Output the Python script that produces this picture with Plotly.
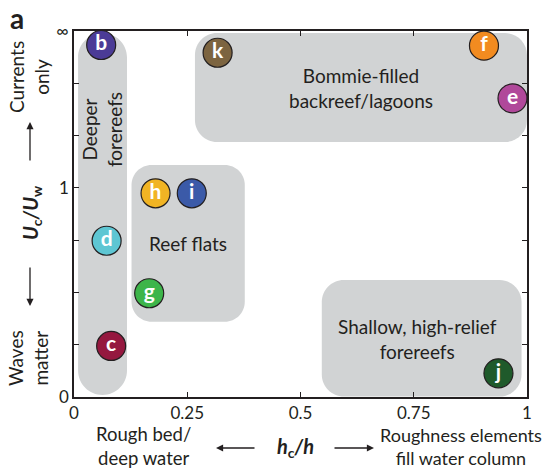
import plotly.graph_objects as go

# ---- data ----
site_labels = ["b", "c", "d", "e", "f", "g", "h", "i", "j", "k"]
site_x = [0.060, 0.082, 0.072, 0.968, 0.905, 0.166, 0.180, 0.260, 0.937, 0.317]
site_y = [1.683, 0.244, 0.747, 1.428, 1.680, 0.496, 0.974, 0.974, 0.113, 1.646]
site_colors = ["#4b3b96", "#95183f", "#5ec6d3", "#b0489a", "#f28b20",
               "#3db54a", "#f1b424", "#3b5aa8", "#1f5a2b", "#7c6440"]

region_names = ["Deeper<br>forereefs", "Reef flats", "Bommie-filled<br>backreef/lagoons",
                "Shallow, high-relief<br>forereefs"]
region_x0 = [0.009, 0.127, 0.267, 0.547]
region_x1 = [0.117, 0.377, 1.000, 0.988]
region_y0 = [0.010, 0.360, 1.219, 0.002]
region_y1 = [1.740, 1.109, 1.740, 0.559]
region_label_x = [0.062, 0.252, 0.634, 0.759]
region_label_y = [1.277, 0.736, 1.478, 0.277]

x_tickvals = [0, 0.25, 0.5, 0.75, 1]
x_ticktext = ["0", "0.25", "0.5", "0.75", "1"]
y_tickvals = [0, 0.25, 0.5, 0.75, 1, 1.25, 1.5, 1.75]
y_ticktext = ["0", "", "", "", "1", "", "", "∞"]

# ---- layout geometry ----
W, H = 546, 470
ML, MR, MT, MB = 74, 19, 31, 73
PW, PH = W - ML - MR, H - MT - MB
XR, YR = (0, 1), (0, 1.75)
sx = PW / (XR[1] - XR[0])
sy = PH / (YR[1] - YR[0])

FONT = "Lato"
TXT = "#231f20"
GRAY = "#d1d3d4"
LBL = 19
region_radius_px = [24.5, 20, 22, 22]


def rounded_path(x0, x1, y0, y1, rpx):
    rx = rpx / sx
    ry = rpx / sy
    k = 0.5523
    p = []
    p.append(f"M {x0+rx},{y0}")
    p.append(f"L {x1-rx},{y0}")
    p.append(f"C {x1-rx+k*rx},{y0} {x1},{y0+ry-k*ry} {x1},{y0+ry}")
    p.append(f"L {x1},{y1-ry}")
    p.append(f"C {x1},{y1-ry+k*ry} {x1-rx+k*rx},{y1} {x1-rx},{y1}")
    p.append(f"L {x0+rx},{y1}")
    p.append(f"C {x0+rx-k*rx},{y1} {x0},{y1-ry+k*ry} {x0},{y1-ry}")
    p.append(f"L {x0},{y0+ry}")
    p.append(f"C {x0},{y0+ry-k*ry} {x0+rx-k*rx},{y0} {x0+rx},{y0}")
    p.append("Z")
    return " ".join(p)


def paper(px, py):
    return (px - ML) / PW, (H - MB - py) / PH


fig = go.Figure()

shapes = []
for i in range(len(region_names)):
    shapes.append(dict(type="path", xref="x", yref="y", layer="below",
                       path=rounded_path(region_x0[i], region_x1[i], region_y0[i], region_y1[i],
                                         region_radius_px[i]),
                       fillcolor=GRAY, line=dict(width=0)))

fig.add_trace(go.Scatter(
    x=site_x, y=site_y, mode="markers+text", text=site_labels,
    textposition="middle center",
    textfont=dict(family=FONT, size=21, color="white", weight="bold"),
    marker=dict(size=29, color=site_colors, line=dict(color="#231f20", width=1.2)),
    cliponaxis=False, hoverinfo="skip", showlegend=False))

ann = []
for i in range(len(region_names)):
    ann.append(dict(x=region_label_x[i], y=region_label_y[i], xref="x", yref="y",
                    xanchor="center", yanchor="middle",
                    text=region_names[i], showarrow=False,
                    textangle=-90 if i == 0 else 0,
                    font=dict(family=FONT, size=LBL, color=TXT)))


def add_text(px, py, text, size=LBL, angle=0, bold=False, yanchor="middle"):
    x, y = paper(px, py)
    ann.append(dict(x=x, y=y, xref="paper", yref="paper", text=text, showarrow=False,
                    xanchor="center", yanchor=yanchor,
                    textangle=angle, font=dict(family=FONT, size=size, color=TXT,
                                               weight="bold" if bold else "normal")))


def add_arrow(px0, py0, px1, py1):
    x, y = paper(px1, py1)
    ann.append(dict(x=x, y=y, xref="paper", yref="paper", ax=px0 - px1, ay=py0 - py1,
                    axref="pixel", ayref="pixel", text="", showarrow=True,
                    arrowhead=2, arrowsize=1.1, arrowwidth=1.3, arrowcolor=TXT))


add_text(17, -1, "a", size=28, bold=True, yanchor="top")
add_text(29, 77, "Currents<br>only", angle=-90)
add_arrow(30, 162, 30, 122)
add_text(31, 213, "<i>U</i><sub>c</sub><i>/U</i><sub>w</sub>", size=20, angle=-90, bold=True)
add_arrow(30, 266, 30, 306)
add_text(28, 358, "Waves<br>matter", angle=-90)

add_text(143, 446, "Rough bed/<br>deep water", size=18.5)
add_arrow(256, 448, 216, 448)
add_text(295, 447, "<i>h</i><sub>c</sub><i>/h</i>", size=20, bold=True)
add_arrow(333, 448, 374, 448)
add_text(461, 446, "Roughness elements<br>fill water column", size=18)

axis_common = dict(showgrid=False, zeroline=False, showline=True, linecolor="#231f20",
                   linewidth=1.5, mirror="ticks", ticks="inside", ticklen=5,
                   tickwidth=1, tickcolor="#231f20",
                   tickfont=dict(family=FONT, size=17, color=TXT))

fig.update_layout(
    width=W, height=H, margin=dict(l=ML, r=MR, t=MT, b=MB),
    paper_bgcolor="white", plot_bgcolor="white",
    shapes=shapes, annotations=ann, showlegend=False,
    xaxis=dict(range=list(XR), tickmode="array", tickvals=x_tickvals, ticktext=x_ticktext,
               **axis_common),
    yaxis=dict(range=list(YR), tickmode="array", tickvals=y_tickvals, ticktext=y_ticktext,
               **axis_common),
)

fig.write_html("out.html", config={"displayModeBar": False},
               post_script="document.body.style.margin='0';")
